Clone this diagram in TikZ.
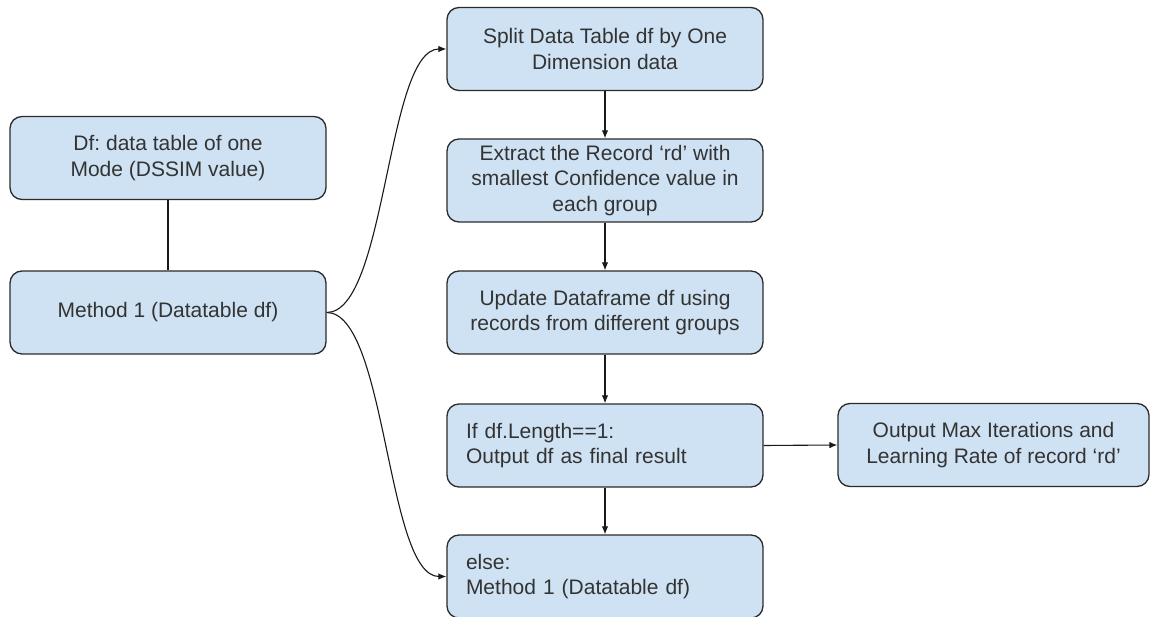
\documentclass[tikz,border=0pt]{standalone}
\usepackage{fontspec}
\setmainfont{Liberation Sans}
\usetikzlibrary{arrows.meta}
\definecolor{boxfill}{HTML}{CFE2F3}
\definecolor{boxline}{HTML}{2B2B2B}
\definecolor{txt}{HTML}{333333}
\frenchspacing
\tikzset{
  flowbox/.style={rectangle, rounded corners=12pt, draw=boxline, fill=boxfill,
    line width=1.3pt, minimum width=316pt, minimum height=83pt, inner sep=0pt,
    text=txt, font=\fontsize{21}{25.5}\selectfont, align=center},
  leftbox/.style={flowbox, text width=278pt, align=left},
  conn/.style={line width=1.1pt, draw=black!90},
  arr/.style={conn, -{Latex[length=8pt,width=6.5pt]}}
}
\begin{document}
\begin{tikzpicture}[x=1pt,y=-1pt]
\useasboundingbox (0,0) rectangle (1151,617);
\node[flowbox] (df) at (168,158) {Df: data table of one\\Mode (DSSIM value)};
\node[flowbox] (m) at (168,312.5) {Method 1 (Datatable df)};
\node[flowbox] (split) at (605,49) {Split Data Table df by One\\Dimension data};
\node[flowbox] (extract) at (605,180.5) {Extract the Record `rd' with\\smallest Confidence value in\\each group};
\node[flowbox] (update) at (605,312.5) {Update Dataframe df using\\records from different groups};
\node[leftbox] (if) at (605,445.5) {If df.Length==1:\\Output df as final result};
\node[leftbox] (else) at (605,576.5) {else:\\Method 1 (Datatable df)};
\node[flowbox, minimum width=311pt] (out) at (993.5,445) {Output Max Iterations and\\Learning Rate of record `rd'};
\draw[conn] (df.south) -- (m.north);
\draw[arr] (m.east) .. controls +(60,0) and +(-60,0) .. (split.west);
\draw[arr] (m.east) .. controls +(60,0) and +(-60,0) .. (else.west);
\draw[arr] (split.south) -- (extract.north);
\draw[arr] (extract.south) -- (update.north);
\draw[arr] (update.south) -- (if.north);
\draw[arr] (if.south) -- (else.north);
\draw[arr] (if.east) -- (out.west);
\end{tikzpicture}
\end{document}
